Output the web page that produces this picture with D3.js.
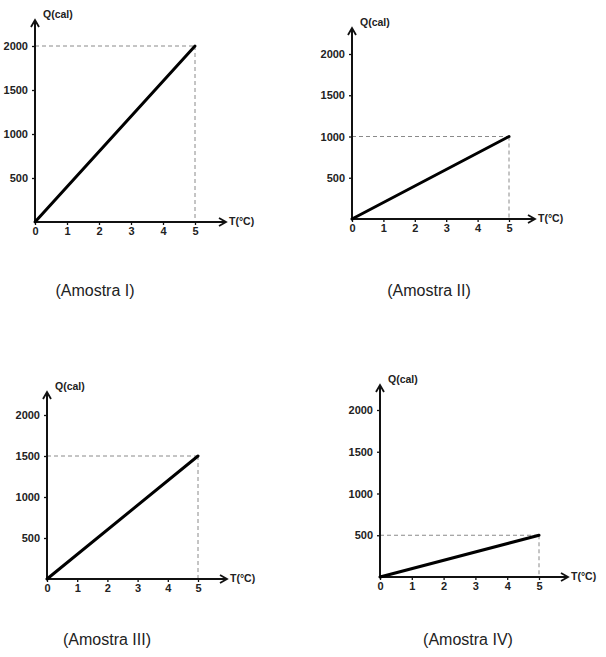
<!DOCTYPE html>
<html>
<meta charset="utf-8">
<head>
    <script src="https://d3js.org/d3.v7.min.js"></script>
    <style>
        body { margin: 0; background: #fff; }
        .tick text { font-family: "Liberation Sans", Arial, sans-serif; font-weight: bold; fill: #222; }
    </style>
</head>
<body>
    <script>

        // data
        var samples = ["Amostra I", "Amostra II", "Amostra III", "Amostra IV"];
        var qFinal = [2000, 1000, 1500, 500];   // Q(cal) reached at T = 5
        var tFinal = 5;
        var xTicks = [0, 1, 2, 3, 4, 5];
        var yTicks = [500, 1000, 1500, 2000];

        // where each little graph sits on the page
        var panels = [
            {ox: 35,  oy: 222, x5: 195, y2000: 46,  top: 20,  right: 226, cx: 95,  cy: 292},
            {ox: 352, oy: 219, x5: 509, y2000: 54,  top: 28,  right: 535, cx: 429, cy: 292},
            {ox: 47,  oy: 579, x5: 198, y2000: 415, top: 392, right: 227, cx: 107, cy: 641},
            {ox: 380, oy: 577, x5: 539, y2000: 410, top: 385, right: 568, cx: 468, cy: 641}
        ];

        var width = 606,
            height = 657;

        var svg = d3.select("body").append("svg")
            .attr("width", width)
            .attr("height", height);

        panels.forEach(function(p, i) {

            var x = d3.scaleLinear().domain([0, 5]).range([p.ox, p.x5]);
            var y = d3.scaleLinear().domain([0, 2000]).range([p.oy, p.y2000]);

            var g = svg.append("g");
            var q = qFinal[i];

            // dashed guides
            g.append("line")
                .attr("x1", x(0)).attr("y1", y(q))
                .attr("x2", x(tFinal)).attr("y2", y(q))
                .attr("stroke", "#8a8a8a").attr("stroke-width", 1)
                .attr("stroke-dasharray", "4,3");
            g.append("line")
                .attr("x1", x(tFinal)).attr("y1", y(q))
                .attr("x2", x(tFinal)).attr("y2", y(0))
                .attr("stroke", "#8a8a8a").attr("stroke-width", 1)
                .attr("stroke-dasharray", "4,3");

            // ticks + labels
            var xa = g.append("g")
                .attr("transform", "translate(0," + p.oy + ")")
                .call(d3.axisBottom(x).tickValues(xTicks).tickFormat(d3.format("d"))
                    .tickSizeInner(3).tickSizeOuter(0).tickPadding(2));
            var ya = g.append("g")
                .attr("transform", "translate(" + p.ox + ",0)")
                .call(d3.axisLeft(y).tickValues(yTicks).tickFormat(d3.format("d"))
                    .tickSizeInner(3).tickSizeOuter(0).tickPadding(4));
            [xa, ya].forEach(function(a) {
                a.select(".domain").remove();
                a.selectAll(".tick line").attr("stroke", "#111").attr("stroke-width", 1.3);
                a.selectAll(".tick text").attr("font-size", 11);
            });

            // axes with open arrowheads
            g.append("line")
                .attr("x1", p.ox).attr("y1", p.oy + 1)
                .attr("x2", p.ox).attr("y2", p.top)
                .attr("stroke", "#111").attr("stroke-width", 2);
            g.append("line")
                .attr("x1", p.ox - 1).attr("y1", p.oy)
                .attr("x2", p.right).attr("y2", p.oy)
                .attr("stroke", "#111").attr("stroke-width", 2);
            g.append("path")
                .attr("d", "M" + (p.ox - 4) + "," + (p.top + 7) + "L" + p.ox + "," + p.top + "L" + (p.ox + 4) + "," + (p.top + 7))
                .attr("fill", "none").attr("stroke", "#111").attr("stroke-width", 1.8);
            g.append("path")
                .attr("d", "M" + (p.right - 7) + "," + (p.oy - 4) + "L" + p.right + "," + p.oy + "L" + (p.right - 7) + "," + (p.oy + 4))
                .attr("fill", "none").attr("stroke", "#111").attr("stroke-width", 1.8);

            g.append("text")
                .attr("x", p.ox + 8).attr("y", p.top - 2)
                .attr("font-family", "Liberation Sans, Arial, sans-serif")
                .attr("font-weight", "bold").attr("font-size", 10.5)
                .attr("fill", "#222")
                .text("Q(cal)");
            g.append("text")
                .attr("x", p.right + 3).attr("y", p.oy + 3)
                .attr("font-family", "Liberation Sans, Arial, sans-serif")
                .attr("font-weight", "bold").attr("font-size", 10.5)
                .attr("fill", "#222")
                .text("T(°C)");

            // the sample line
            g.append("line")
                .attr("x1", x(0)).attr("y1", y(0))
                .attr("x2", x(tFinal)).attr("y2", y(q))
                .attr("stroke", "#000").attr("stroke-width", 3)
                .attr("stroke-linecap", "round");

            // caption
            svg.append("text")
                .attr("x", p.cx).attr("y", p.cy)
                .attr("text-anchor", "middle")
                .attr("dominant-baseline", "middle")
                .attr("font-family", "Liberation Sans, Arial, sans-serif")
                .attr("font-size", 16)
                .attr("fill", "#222")
                .text("(" + samples[i] + ")");
        });

    </script>
</body>
</html>
